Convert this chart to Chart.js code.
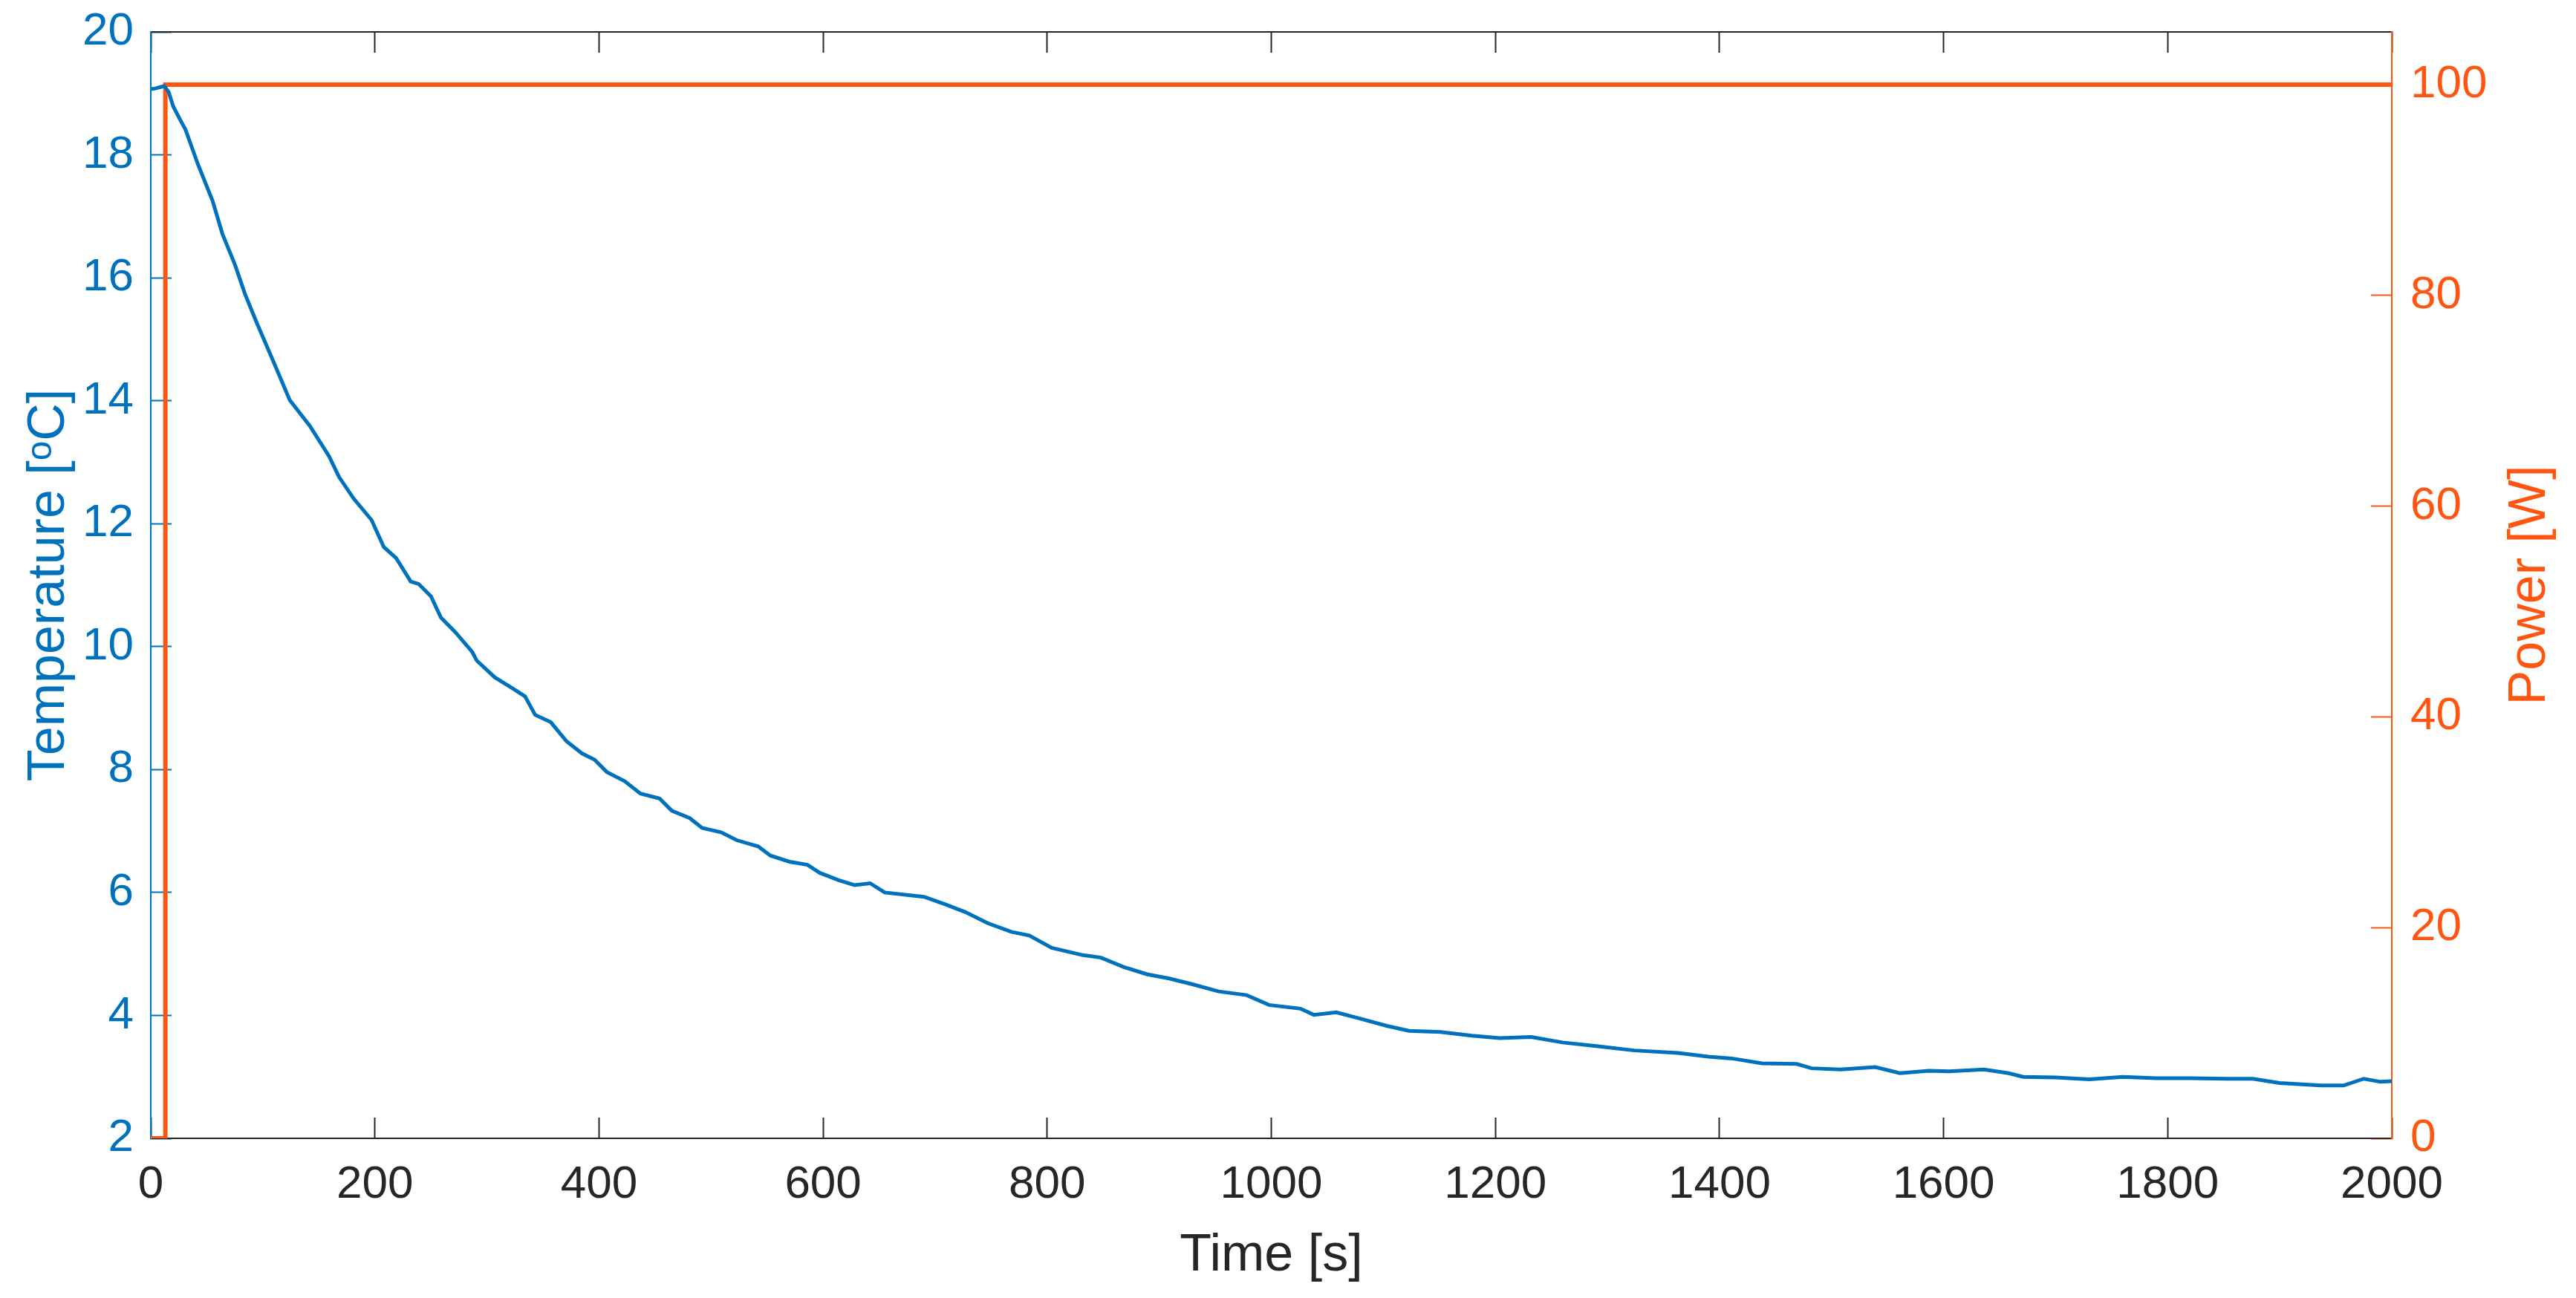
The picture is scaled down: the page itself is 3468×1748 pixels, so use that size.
<!DOCTYPE html>
<html>
<head>
<meta charset="utf-8">
<script src="https://cdn.jsdelivr.net/npm/chart.js@4.4.1/dist/chart.umd.min.js"></script>
<style>
  html, body { margin: 0; padding: 0; background: #fff; }
  #wrap { width: 3468px; height: 1748px; }
</style>
</head>
<body>
<div id="wrap"><canvas id="lineChart" width="3468" height="1748"></canvas></div>
<script>
// time axis [s] and measured temperature [oC]
var timeS = [0, 4, 8, 12, 16, 20, 26, 31, 42, 55, 64, 75, 84, 95, 108, 124, 142, 159, 168, 181,
  197, 208, 219, 232, 239, 250, 259, 272, 287, 291, 307, 323, 334, 343, 357, 371, 385, 396, 407, 423,
  437, 454, 465, 481, 492, 509, 523, 542, 553, 570, 586, 597, 614, 628, 642, 655, 690, 710, 727, 747,
  768, 784, 804, 832, 848, 868, 889, 909, 929, 953, 978, 998, 1026, 1038, 1058, 1079, 1103, 1123, 1151, 1179,
  1204, 1232, 1260, 1290, 1324, 1363, 1390, 1411, 1438, 1469, 1482, 1508, 1539, 1561, 1587, 1605, 1636, 1658, 1671, 1700,
  1730, 1760, 1790, 1820, 1854, 1876, 1900, 1937, 1957, 1975, 1990, 2000];
var tempC = [19.07, 19.08, 19.10, 19.12, 19.02, 18.79, 18.58, 18.41, 17.85, 17.26, 16.71, 16.22, 15.74, 15.25, 14.70, 14.01, 13.59, 13.10, 12.76, 12.41,
  12.06, 11.62, 11.44, 11.06, 11.02, 10.82, 10.47, 10.23, 9.91, 9.77, 9.50, 9.32, 9.19, 8.89, 8.77, 8.46, 8.26, 8.16, 7.96, 7.81,
  7.61, 7.53, 7.33, 7.21, 7.05, 6.98, 6.85, 6.75, 6.60, 6.50, 6.45, 6.32, 6.20, 6.12, 6.15, 6.00, 5.93, 5.80, 5.68, 5.50,
  5.36, 5.30, 5.10, 4.98, 4.94, 4.79, 4.67, 4.60, 4.51, 4.39, 4.33, 4.17, 4.11, 4.01, 4.05, 3.95, 3.83, 3.75, 3.73, 3.67,
  3.63, 3.65, 3.56, 3.50, 3.43, 3.39, 3.33, 3.30, 3.22, 3.21, 3.14, 3.12, 3.16, 3.06, 3.10, 3.09, 3.12, 3.06, 3.00, 2.99,
  2.96, 3.00, 2.98, 2.98, 2.97, 2.97, 2.90, 2.86, 2.86, 2.97, 2.92, 2.93];

// heater power [W]
var powerTime = [0, 13, 13, 2000];
var powerW = [0, 0, 100, 100];

// tick values
var xTicks = [0, 200, 400, 600, 800, 1000, 1200, 1400, 1600, 1800, 2000];
var tempTicks = [2, 4, 6, 8, 10, 12, 14, 16, 18, 20];
var powerTicks = [0, 20, 40, 60, 80, 100];

var blue = '#0072BD';
var orange = '#FF5511';
var axisGrey = '#262626';
var fontFamily = '"Liberation Sans", Arial, sans-serif';

Chart.defaults.font.family = fontFamily;

function toPoints(xs, ys) {
    return xs.map(function(x, i) { return {x: x, y: ys[i]}; });
}

function fixTicks(values) {
    return function(scale) {
        scale.ticks = values.map(function(v) { return {value: v}; });
    };
}

// fixed box size, and no extra room reserved for overhanging labels
function fixSize(prop, size) {
    return function(scale) {
        scale[prop] = size;
        scale.paddingTop = 0;
        scale.paddingBottom = 0;
        scale.paddingLeft = 0;
        scale.paddingRight = 0;
    };
}

function plainLabel(value) {
    return String(value);
}

// right axis title reads bottom-to-top like the left one
var rightTitle = {
    id: 'rightTitle',
    afterDraw: function(chart) {
        var s = chart.scales.y1;
        var ctx = chart.ctx;
        ctx.save();
        ctx.translate(s.right - 61, (s.top + s.bottom) / 2);
        ctx.rotate(-Math.PI / 2);
        ctx.font = '70px ' + fontFamily;
        ctx.fillStyle = orange;
        ctx.textAlign = 'center';
        ctx.textBaseline = 'middle';
        ctx.fillText('Power [W]', 0, 0);
        ctx.restore();
    }
};

var lineData = {
    datasets: [
        {
            label: 'Temperature',
            data: toPoints(timeS, tempC),
            borderColor: blue,
            borderWidth: 5,
            pointRadius: 0,
            tension: 0,
            yAxisID: 'y',
            order: 1
        },
        {
            label: 'Power',
            data: toPoints(powerTime, powerW),
            borderColor: orange,
            borderWidth: 6,
            pointRadius: 0,
            tension: 0,
            yAxisID: 'y1',
            order: 2
        }
    ]
};

var lineOptions = {
    responsive: false,
    animation: false,
    devicePixelRatio: 1,
    layout: { padding: 0 },
    plugins: {
        legend: { display: false },
        tooltip: { enabled: false }
    },
    scales: {
        x: {
            type: 'linear',
            position: 'bottom',
            min: 0,
            max: 2000,
            afterBuildTicks: fixTicks(xTicks),
            afterFit: fixSize('height', 215),
            border: { color: axisGrey, width: 2 },
            grid: { drawOnChartArea: false, tickLength: -28, tickWidth: 2, tickColor: axisGrey },
            ticks: { color: axisGrey, font: { size: 62 }, padding: 54, maxRotation: 0, callback: plainLabel },
            title: { display: true, text: 'Time [s]', color: axisGrey, font: { size: 70 }, padding: { top: 0, bottom: 14 } }
        },
        xTop: {
            type: 'linear',
            position: 'top',
            min: 0,
            max: 2000,
            afterBuildTicks: fixTicks(xTicks),
            afterFit: fixSize('height', 43),
            border: { color: axisGrey, width: 2 },
            grid: { drawOnChartArea: false, tickLength: -28, tickWidth: 2, tickColor: axisGrey },
            ticks: { display: false }
        },
        y: {
            type: 'linear',
            position: 'left',
            min: 2,
            max: 20,
            afterBuildTicks: fixTicks(tempTicks),
            afterFit: fixSize('width', 203),
            border: { color: blue, width: 2 },
            grid: { drawOnChartArea: false, tickLength: -28, tickWidth: 2, tickColor: blue },
            ticks: { color: blue, font: { size: 62 }, padding: 51, callback: plainLabel },
            title: { display: true, text: 'Temperature [\u1D52C]', color: blue, font: { size: 70 }, padding: { top: 25, bottom: 0 } }
        },
        y1: {
            type: 'linear',
            position: 'right',
            min: 0,
            max: 105,
            afterBuildTicks: fixTicks(powerTicks),
            afterFit: fixSize('width', 248),
            border: { color: orange, width: 2 },
            grid: { drawOnChartArea: false, tickLength: -28, tickWidth: 2, tickColor: orange },
            ticks: { color: orange, font: { size: 62 }, padding: 53, callback: plainLabel },
            title: { display: false }
        }
    }
};

var ctx = document.getElementById('lineChart').getContext('2d');
new Chart(ctx, { type: 'line', data: lineData, options: lineOptions, plugins: [rightTitle] });
</script>
</body>
</html>
